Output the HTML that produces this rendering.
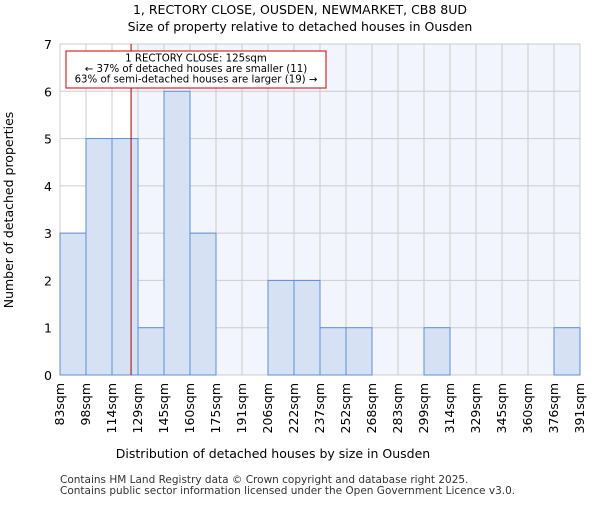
<!DOCTYPE html>
<html><head><meta charset="utf-8"><style>
body{margin:0;background:#fff}
svg{font-family:"DejaVu Sans","Liberation Sans",sans-serif}
</style></head><body>
<svg id="chart" width="600" height="500">
<text x="300" y="14" font-size="12.5" text-anchor="middle">1, RECTORY CLOSE, OUSDEN, NEWMARKET, CB8 8UD</text>
<text x="300" y="31" font-size="12.5" text-anchor="middle">Size of property relative to detached houses in Ousden</text>
<g id="plot"></g>
<text x="273" y="458" font-size="12.5" text-anchor="middle">Distribution of detached houses by size in Ousden</text>
<text transform="translate(13,210) rotate(-90)" font-size="12.5" text-anchor="middle">Number of detached properties</text>
<text x="60" y="483" font-size="10.5" fill="#333">Contains HM Land Registry data © Crown copyright and database right 2025.</text>
<text x="60" y="494" font-size="10.5" fill="#333">Contains public sector information licensed under the Open Government Licence v3.0.</text>
</svg>
<script>
const binLabels=["83sqm","98sqm","114sqm","129sqm","145sqm","160sqm","175sqm","191sqm","206sqm","222sqm","237sqm","252sqm","268sqm","283sqm","299sqm","314sqm","329sqm","345sqm","360sqm","376sqm","391sqm"];
const binEdges=[83,98,114,129,145,160,175,191,206,222,237,252,268,283,299,314,329,345,360,376,391];
const counts=[3,5,5,1,6,3,0,0,2,2,1,1,0,0,1,0,0,0,0,1];
const yTicks=[0,1,2,3,4,5,6,7];
const propertySize=125;
const NS="http://www.w3.org/2000/svg";
const g=document.getElementById("plot");
const x0=60,x1=580,yTop=44,yBot=375,nb=counts.length,bw=(x1-x0)/nb;
const xi=i=>x0+i*bw;
const y=v=>yBot-v/7*(yBot-yTop);
function sizeX(s){let i=0;while(i<binEdges.length-2&&s>binEdges[i+1])i++;return xi(i)+(s-binEdges[i])/(binEdges[i+1]-binEdges[i])*bw;}
function mk(t,a){const e=document.createElementNS(NS,t);for(const k in a)e.setAttribute(k,a[k]);g.appendChild(e);return e;}
const px=sizeX(propertySize);
let e=mk("rect",{x:px,y:yTop,width:x1-px,height:yBot-yTop,fill:"#f2f5fd"});


for(let i=0;i<=nb;i++){e=mk("line",{x1:xi(i),x2:xi(i),y1:yTop,y2:yBot,stroke:"#ccc"});

}
yTicks.forEach(t=>{e=mk("line",{x1:x0,x2:x1,y1:y(t),y2:y(t),stroke:"#ccc"});


e=mk("text",{x:x0-8,y:y(t)+5,"font-size":"12.5","text-anchor":"end"});e.textContent=t;

});
counts.forEach((c,i)=>{if(!c)return;e=mk("rect",{x:xi(i),y:y(c),width:bw,height:yBot-y(c),fill:"#d6e2f4",stroke:"#5a8fd6","stroke-width":1});

});
binLabels.forEach((l,i)=>{e=mk("text",{transform:`translate(${xi(i)+4},${yBot+8}) rotate(-90)`,"font-size":"12.5","text-anchor":"end"});e.textContent=l;

});
e=mk("line",{x1:px,x2:px,y1:yTop,y2:yBot,stroke:"#a00","stroke-width":1});


e=mk("rect",{x:66,y:51,width:260,height:37,fill:"#fff",stroke:"#c00","stroke-width":1});


["1 RECTORY CLOSE: 125sqm","← 37% of detached houses are smaller (11)","63% of semi-detached houses are larger (19) →"].forEach((t,i)=>{
e=mk("text",{x:196,y:61.5+i*10.5,"font-size":"10.2","text-anchor":"middle"});e.textContent=t;

});
</script>
</body></html>
